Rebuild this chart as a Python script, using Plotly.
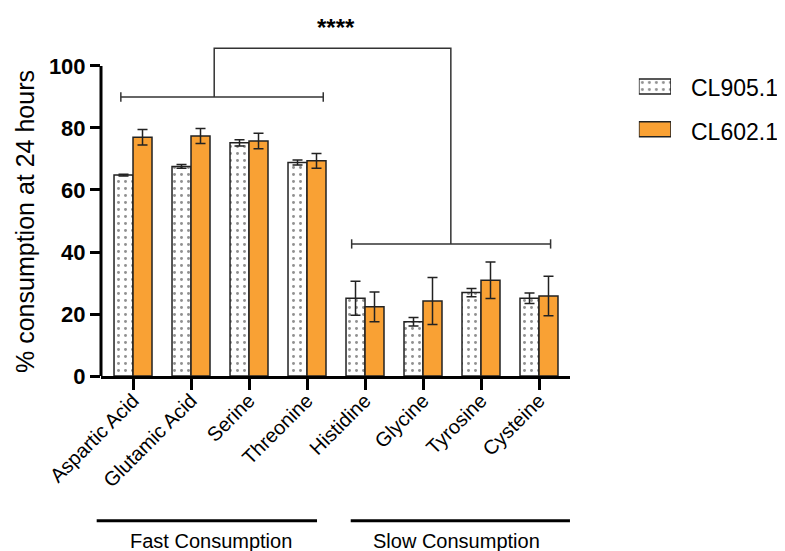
import plotly.graph_objects as go

categories = ["Aspartic Acid", "Glutamic Acid", "Serine", "Threonine",
              "Histidine", "Glycine", "Tyrosine", "Cysteine"]
cl905 = [64.8, 67.6, 75.2, 68.9, 25.1, 17.5, 26.9, 25.1]
cl905_err = [0.3, 0.6, 1.0, 0.8, 5.5, 1.4, 1.3, 1.7]
cl602 = [77.0, 77.4, 75.8, 69.4, 22.3, 24.2, 30.9, 25.8]
cl602_err = [2.5, 2.4, 2.5, 2.4, 4.8, 7.6, 5.9, 6.4]
series_names = ["CL905.1", "CL602.1"]
group_names = ["Fast Consumption", "Slow Consumption"]
y_ticks = [0, 20, 40, 60, 80, 100]
y_title = "% consumption at 24 hours"
signif = "****"

FONT = "Arial, Liberation Sans, sans-serif"
ORANGE = "#F9A134"
DARK = "#222222"

fig = go.Figure()
x_idx = list(range(len(categories)))

dot_pattern = dict(shape=".", bgcolor="white", fgcolor="#222222", size=7, solidity=0.14)

fig.add_trace(go.Bar(
    x=x_idx, y=cl905, name=series_names[0],
    marker=dict(color="white", line=dict(color=DARK, width=1.5), pattern=dot_pattern),
    error_y=dict(type="data", array=cl905_err, color=DARK, thickness=1.5, width=5),
    showlegend=False,
))
fig.add_trace(go.Bar(
    x=x_idx, y=cl602, name=series_names[1],
    marker=dict(color=ORANGE, line=dict(color=DARK, width=1.5)),
    error_y=dict(type="data", array=cl602_err, color=DARK, thickness=1.5, width=5),
    showlegend=False,
))

# custom legend swatches on a hidden secondary axis
fig.add_trace(go.Bar(
    x=[1], y=[1], base=0, orientation="h", width=0.35, offset=-0.175,
    xaxis="x2", yaxis="y2", showlegend=False, hoverinfo="skip",
    marker=dict(color="white", line=dict(color=DARK, width=1.5), pattern=dot_pattern),
))
fig.add_trace(go.Bar(
    x=[1], y=[0], base=0, orientation="h", width=0.35, offset=-0.175,
    xaxis="x2", yaxis="y2", showlegend=False, hoverinfo="skip",
    marker=dict(color=ORANGE, line=dict(color=DARK, width=1.5)),
))

line_style = dict(color="#333333", width=1.5)
shapes = []
# y axis line (0..100)
shapes.append(dict(type="line", xref="paper", yref="y", x0=0, x1=0, y0=0, y1=100,
                   line=dict(color="black", width=3)))
# fast bracket
fx0, fx1, fy = -0.21, 3.28, 90
shapes += [
    dict(type="line", xref="x", yref="y", x0=fx0, x1=fx1, y0=fy, y1=fy, line=line_style),
    dict(type="line", xref="x", yref="y", x0=fx0, x1=fx0, y0=fy - 1.5, y1=fy + 1.5, line=line_style),
    dict(type="line", xref="x", yref="y", x0=fx1, x1=fx1, y0=fy - 1.5, y1=fy + 1.5, line=line_style),
]
# slow bracket
sx0, sx1, sy = 3.77, 7.20, 42.6
shapes += [
    dict(type="line", xref="x", yref="y", x0=sx0, x1=sx1, y0=sy, y1=sy, line=line_style),
    dict(type="line", xref="x", yref="y", x0=sx0, x1=sx0, y0=sy - 1.5, y1=sy + 1.5, line=line_style),
    dict(type="line", xref="x", yref="y", x0=sx1, x1=sx1, y0=sy - 1.5, y1=sy + 1.5, line=line_style),
]
# connector
cx0, cx1, cy = 1.40, 5.48, 105.7
shapes.append(dict(type="path", xref="x", yref="y",
                   path=f"M {cx0},{fy} L {cx0},{cy} L {cx1},{cy} L {cx1},{sy}",
                   line=line_style))
# group underlines
shapes += [
    dict(type="line", xref="paper", yref="paper", x0=-0.0064, x1=0.3205, y0=-0.3954, y1=-0.3954,
         line=dict(color="black", width=3)),
    dict(type="line", xref="paper", yref="paper", x0=0.3705, x1=0.6958, y0=-0.3954, y1=-0.3954,
         line=dict(color="black", width=3)),
]

annotations = [
    dict(text=signif, x=3.5, y=112.5, xref="x", yref="y", showarrow=False,
         font=dict(family=FONT, size=24, color="black", weight="bold"),
         xanchor="center", yanchor="middle"),
    dict(text=y_title, x=-0.1128, y=50, xref="paper", yref="y", showarrow=False, textangle=-90,
         font=dict(family=FONT, size=25, color="black"), xanchor="center", yanchor="middle"),
    dict(text=group_names[0], x=0.1632, y=-0.45, xref="paper", yref="paper", showarrow=False,
         font=dict(family=FONT, size=20, color="black"), xanchor="center", yanchor="middle"),
    dict(text=group_names[1], x=0.5277, y=-0.45, xref="paper", yref="paper", showarrow=False,
         font=dict(family=FONT, size=20, color="black"), xanchor="center", yanchor="middle"),
    dict(text=series_names[0], x=0.872, y=0.786, xref="paper", yref="paper", showarrow=False,
         font=dict(family=FONT, size=23, color="black"), xanchor="left", yanchor="middle"),
    dict(text=series_names[1], x=0.872, y=0.6675, xref="paper", yref="paper", showarrow=False,
         font=dict(family=FONT, size=23, color="black"), xanchor="left", yanchor="middle"),
]

# page body has an 8px margin, so the figure is sized/margined to land on the 785x551 window
fig.update_layout(
    width=777, height=543,
    margin=dict(l=93, r=10, t=2, b=175),
    paper_bgcolor="white", plot_bgcolor="white",
    barmode="group", bargap=0.345, bargroupgap=0,
    font=dict(family=FONT, color="black"),
    xaxis=dict(domain=[0, 0.6958], range=[-0.552, 7.534],
               tickmode="array", tickvals=x_idx, ticktext=categories, tickangle=-45,
               tickfont=dict(family=FONT, size=20, color="black"),
               ticklabelstandoff=-9,
               showline=True, linecolor="black", linewidth=3,
               ticks="outside", ticklen=11, tickwidth=3, tickcolor="black",
               showgrid=False, zeroline=False),
    yaxis=dict(range=[0, 118.06], tickmode="array", tickvals=y_ticks,
               tickfont=dict(family=FONT, size=22, color="black", weight="bold"),
               showline=False, ticks="outside", ticklen=10, tickwidth=3, tickcolor="black",
               showgrid=False, zeroline=False),
    xaxis2=dict(domain=[0.798, 0.8457], range=[0, 1], anchor="y2", visible=False,
                fixedrange=True),
    yaxis2=dict(domain=[0.6154, 0.8496], range=[-0.5, 1.5], anchor="x2", visible=False,
                fixedrange=True),
    shapes=shapes,
    annotations=annotations,
)

fig.write_html("out.html")
